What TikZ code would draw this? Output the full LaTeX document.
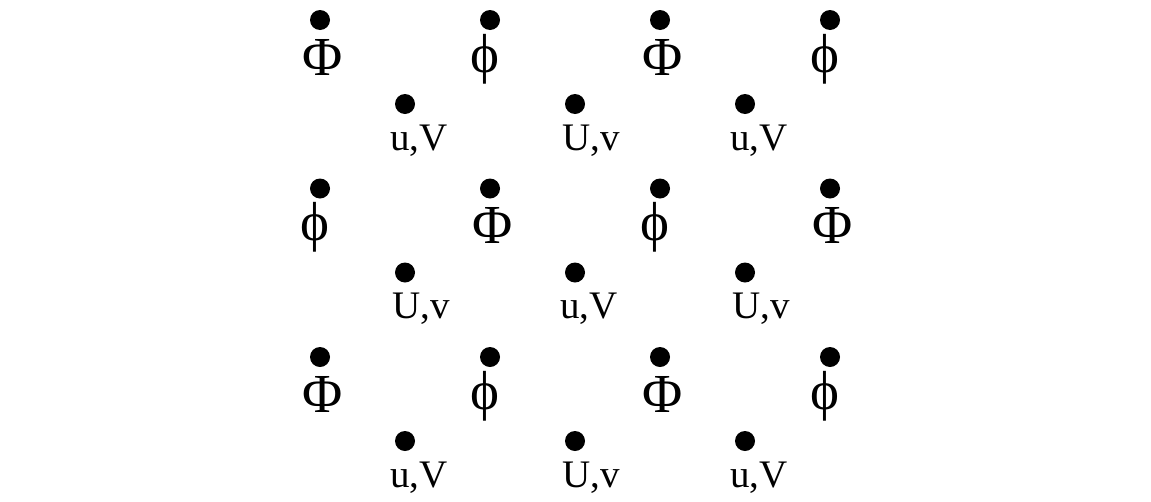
\documentclass[tikz,border=0pt]{standalone}
\usepackage{fontspec}
\setmainfont{Liberation Serif}
\begin{document}
\begin{tikzpicture}[x=1pt,y=-1pt,
  dot/.style={circle,fill=black,inner sep=0pt,minimum size=20pt},
  lat/.style={font=\fontsize{39}{41}\selectfont,anchor=base west,inner sep=0pt},
  grk/.style={font=\fontsize{55}{57}\selectfont,anchor=base,inner sep=0pt}]
\useasboundingbox (0,0) rectangle (1151,501);
% Phi sites
\foreach \n/\x/\y in {P1/320/20,P2/660/20,P3/490/188.5,P4/830/188.5,P5/320/357,P6/660/357}{
  \node[dot] (d\n) at (\x,\y) {};
  \node[grk] (l\n) at (\x+3,\y+55) {\symbol{"03A6}};
}
% phi sites
\foreach \n/\x/\y in {p1/490/20,p2/830/20,p3/320/188.5,p4/660/188.5,p5/490/357,p6/830/357}{
  \node[dot] (d\n) at (\x,\y) {};
  \node[grk] (l\n) at (\x-5,\y+52) {\symbol{"03D5}};
}
% u,V sites
\foreach \n/\x/\y in {a1/405/104,a2/745/104,a3/575/272.5,a4/405/441,a5/745/441}{
  \node[dot] (d\n) at (\x,\y) {};
  \node[lat] (l\n) at (\x-15,\y+46) {u,V};
}
% U,v sites
\foreach \n/\x/\y in {b1/575/104,b2/405/272.5,b3/745/272.5,b4/575/441}{
  \node[dot] (d\n) at (\x,\y) {};
  \node[lat] (l\n) at (\x-13,\y+46) {U,v};
}
\end{tikzpicture}
\end{document}
